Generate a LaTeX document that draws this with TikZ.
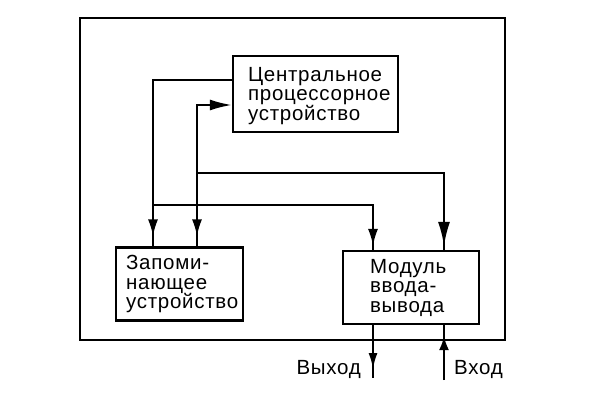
\documentclass[tikz,border=0pt]{standalone}
\usepackage{fontspec}
\setmainfont{Liberation Sans}[LetterSpace=3.5]
\usetikzlibrary{arrows.meta,decorations.markings}
\begin{document}
\begin{tikzpicture}[x=1pt,y=-1pt,
  box/.style={draw,line width=2.2pt,minimum width=#1,inner sep=0pt},
  lbl/.style={inner sep=0pt,font=\fontsize{20.5}{19.5}\selectfont},
  txt/.style={lbl,align=left,anchor=west},
  conn/.style={line width=2.2pt},
  midarrow/.style n args={3}{postaction={decorate,decoration={markings,
     mark=at position #1 with {\arrow{Latex[length=#2,width=#3]}}}}}
]
\useasboundingbox (0,0) rectangle (596,401);
\node[draw,line width=2.6pt,minimum width=425,minimum height=322,inner sep=0pt] (outer) at (292.5,179) {};
\node[box=165,minimum height=76] (cpu) at (315.5,94) {};
\node[box=127,minimum height=73] (mem) at (179.5,284) {};
\node[box=136,minimum height=73] (io) at (411,287.5) {};
\node[txt] (cput) at ([xshift=16,yshift=-2]cpu.west) {Центральное\\процессорное\\устройство};
\node[txt] (memt) at ([xshift=11,yshift=0]mem.west) {Запоми-\\нающее\\устройство};
\node[txt] (iot) at ([xshift=28,yshift=0]io.west) {Модуль\\ввода-\\вывода};
\coordinate (j1) at (153,205);
\coordinate (j2) at (197,173);
\coordinate (outp) at (373,378);
\coordinate (inp) at (444,380);
% CPU -> memory / IO
\draw[conn,midarrow={-10pt}{17pt}{10pt}] (cpu.west |- 0,80) -| (mem.north -| j1);
\draw[conn,midarrow={-4pt}{17pt}{10pt}] (j1) -| (io.north -| outp);
% bus from j2
\draw[conn,-{Latex[length=22pt,width=11pt]}] (j2) |- (cpu.west |- 0,105);
\draw[conn,midarrow={-10pt}{17pt}{10pt}] (j2) -- (mem.north -| j2);
\draw[conn,midarrow={-4pt}{24pt}{12pt}] (j2) -| (io.north -| inp);
% external
\draw[conn,midarrow={-9pt}{16pt}{9pt}] (io.south -| outp) -- (outp);
\draw[conn,midarrow={-11pt}{14pt}{10pt}] (inp) -- (io.south -| inp);
\node[lbl,anchor=base east] (outl) at (361,374) {Выход};
\node[lbl,anchor=base west] (inl) at (454,374) {Вход};
\end{tikzpicture}
\end{document}
